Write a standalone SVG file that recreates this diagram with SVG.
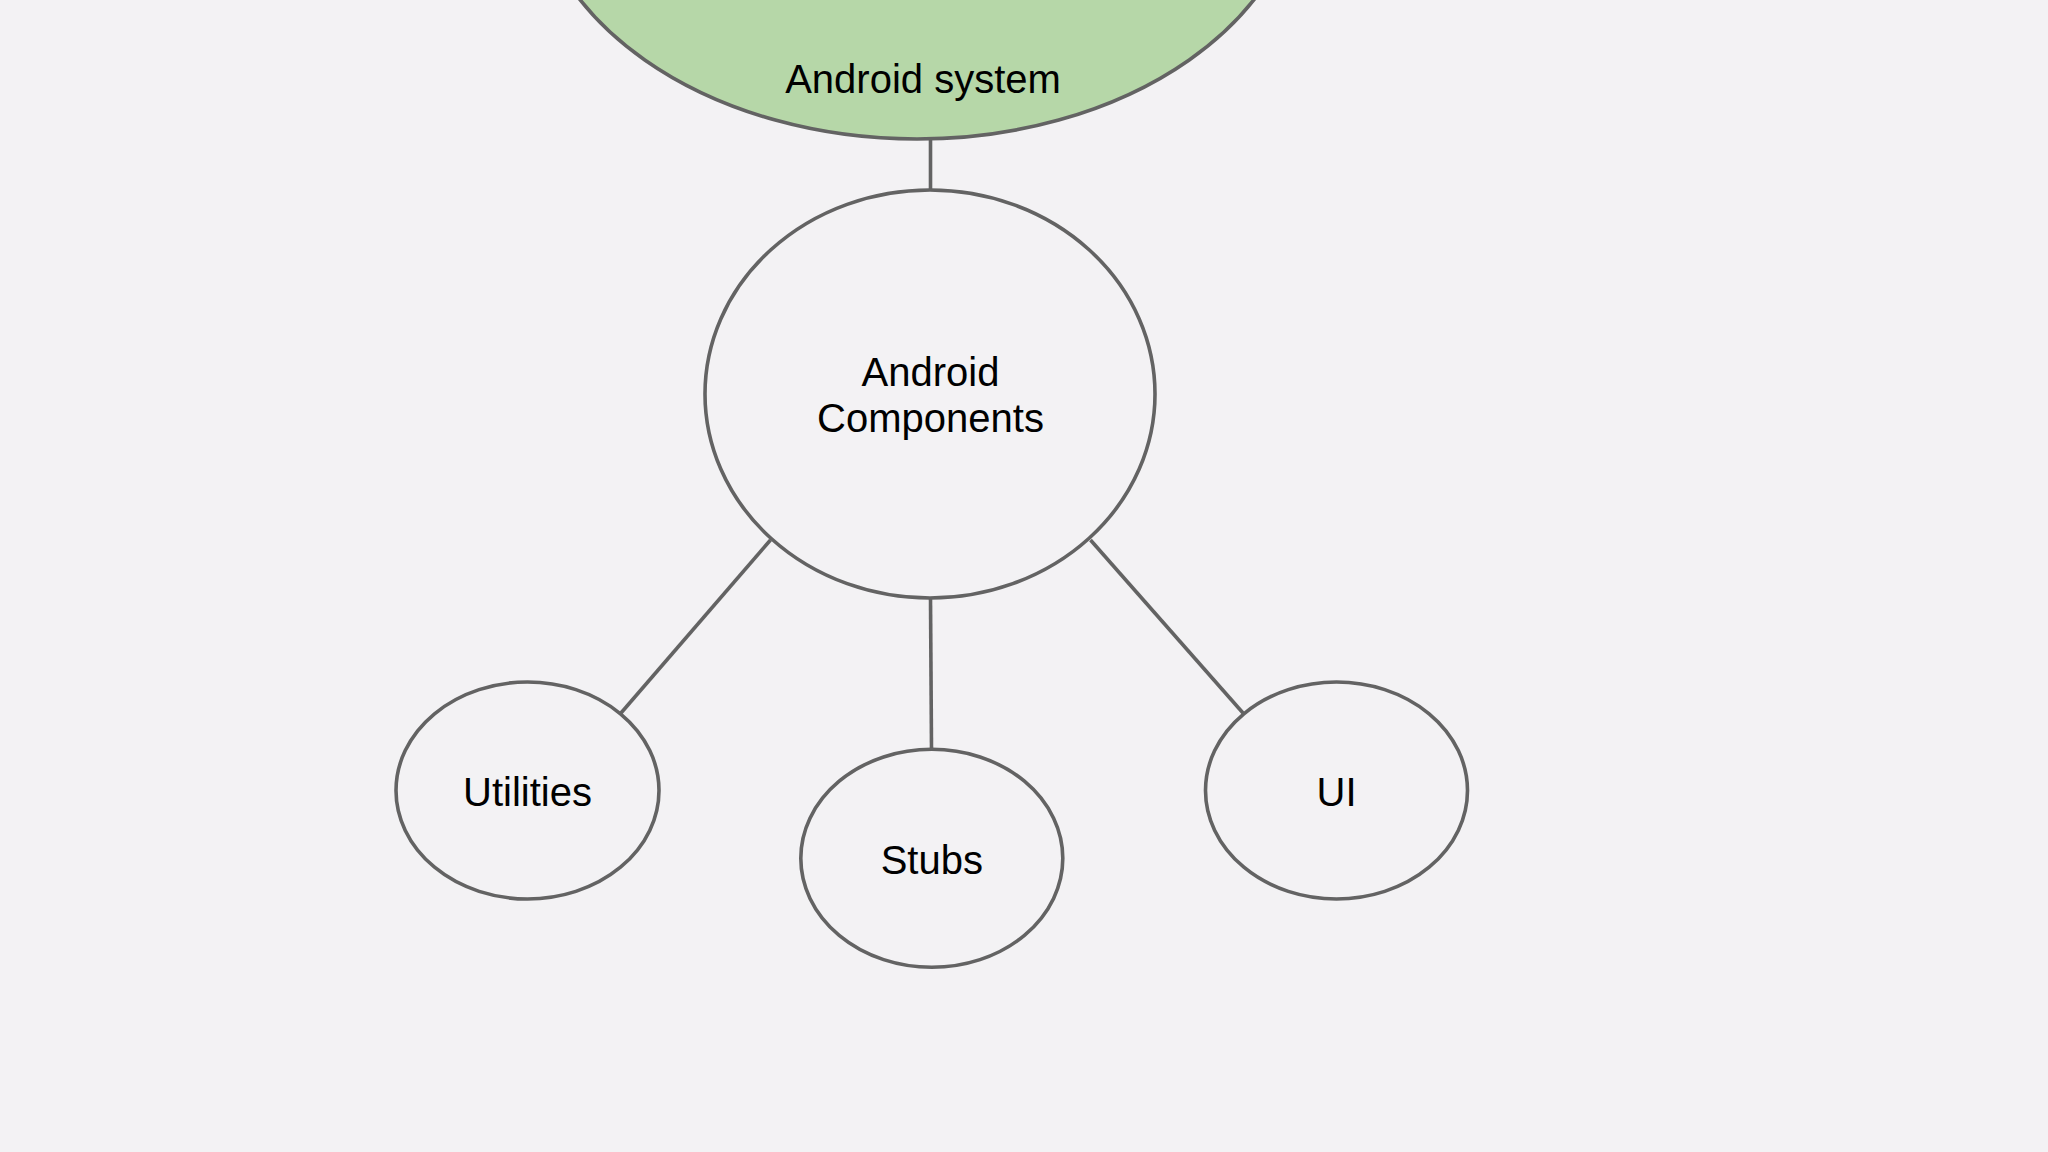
<svg xmlns="http://www.w3.org/2000/svg" width="2048" height="1152" viewBox="0 0 2048 1152">
<style>
.node{fill:#f3f2f4;stroke:#636363;stroke-width:3.6}
.sys{fill:#b6d7a8;stroke:#636363;stroke-width:3.6}
.lbl{font-family:"Liberation Sans",Arial,sans-serif;font-size:40px;fill:#000;text-anchor:middle}
.edge{stroke:#636363;stroke-width:3.6;fill:none}
</style>
<rect x="0" y="0" width="2048" height="1152" fill="#f3f2f4"/>
<g id="connectors">
<line class="edge" x1="930.5" y1="139" x2="930.5" y2="190"/>
<line class="edge" x1="770.5" y1="540" x2="621" y2="713"/>
<line class="edge" x1="930.5" y1="598" x2="931.5" y2="749"/>
<line class="edge" x1="1090.5" y1="540" x2="1243" y2="713"/>
</g>
<g id="android-system">
<ellipse class="sys" cx="917" cy="-131" rx="385" ry="270"/>
<text class="lbl" x="923" y="93">Android system</text>
</g>
<g id="android-components">
<ellipse class="node" cx="930" cy="394" rx="225" ry="204"/>
<text class="lbl" x="930.5" y="386">Android</text>
<text class="lbl" x="930.5" y="432">Components</text>
</g>
<g id="utilities">
<ellipse class="node" cx="527.5" cy="790.5" rx="131.5" ry="108.5"/>
<text class="lbl" x="527.5" y="806">Utilities</text>
</g>
<g id="stubs">
<ellipse class="node" cx="931.8" cy="858.3" rx="131" ry="109"/>
<text class="lbl" x="931.8" y="873.5">Stubs</text>
</g>
<g id="ui">
<ellipse class="node" cx="1336.5" cy="790.5" rx="131" ry="108.5"/>
<text class="lbl" x="1336.5" y="806">UI</text>
</g>
</svg>
